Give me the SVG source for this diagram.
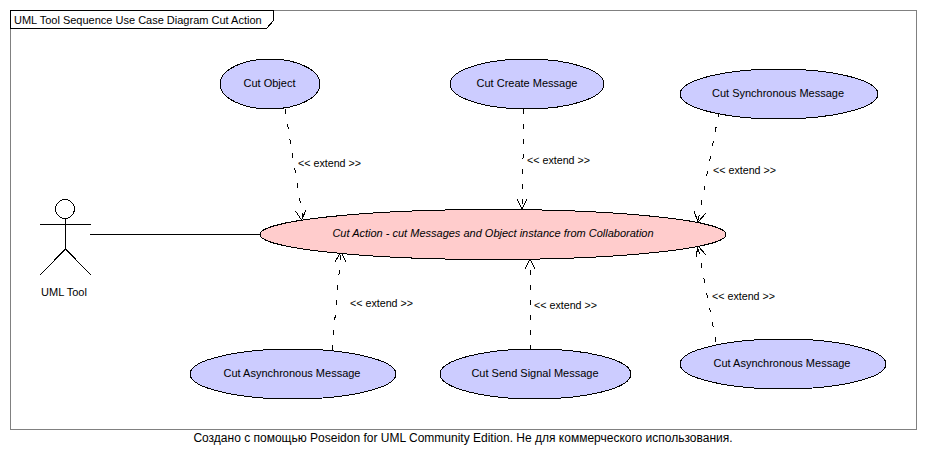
<svg xmlns="http://www.w3.org/2000/svg" width="926" height="461" viewBox="0 0 926 461">
<style>
text{font-family:"Liberation Sans",Arial,sans-serif;font-size:11px;fill:#000;text-anchor:middle}
ellipse,path,circle,rect{shape-rendering:crispEdges}
.uc{fill:#ccf;stroke:#000;stroke-width:1}
.main{fill:#fcc;stroke:#000;stroke-width:1}
.dash{fill:none;stroke:#000;stroke-width:1;stroke-dasharray:5 10}
.head{fill:none;stroke:#000;stroke-width:1}
.l{text-anchor:start}
.x{font-size:10.700px}
</style>
<rect width="926" height="461" fill="#fff"/>
<rect id="frame" x="10.5" y="10.500" width="906" height="419" fill="#fff" stroke="#808080"/>
<g id="frame-label">
<path d="M10.500 10.500H273.500V20.500L266.500 28.500H10.500Z" fill="#fff" stroke="#000"/>
<text class="l" x="14" y="24">UML Tool Sequence Use Case Diagram Cut Action</text>
</g>
<g id="connectors">
<path d="M90 234.500H260" fill="none" stroke="#000"/>
<path class="dash" d="M285 109L303 219"/><path class="head" d="M295.500 211L301.500 220L306 210"/>
<path class="dash" d="M524 109L522 208"/><path class="head" d="M517 199L522 209L527 199"/>
<path class="dash" d="M719 112L698 221"/><path class="head" d="M694 211L698 222L706 213"/>
<path class="dash" d="M332 350L341 253"/><path class="head" d="M335 262L341 252L346 262"/>
<path class="dash" d="M531 350L530 260"/><path class="head" d="M525 269L530 259L535 269"/>
<path class="dash" d="M716 342L698 247"/><path class="head" d="M696 257L698 246L706 255"/>
<text class="l x" x="298" y="167">&lt;&lt; extend &gt;&gt;</text>
<text class="l x" x="527" y="164">&lt;&lt; extend &gt;&gt;</text>
<text class="l x" x="713" y="174">&lt;&lt; extend &gt;&gt;</text>
<text class="l x" x="350" y="307">&lt;&lt; extend &gt;&gt;</text>
<text class="l x" x="534" y="309">&lt;&lt; extend &gt;&gt;</text>
<text class="l x" x="712" y="300">&lt;&lt; extend &gt;&gt;</text>
</g>
<g id="actor">
<circle cx="65" cy="209" r="9.500" fill="#fff" stroke="#000"/>
<path d="M40 224.500H91M65.500 219V249M65.500 249L40 275M65.500 249L91 275" fill="none" stroke="#000"/>
<text x="64" y="296">UML Tool</text>
</g>
<g id="cut-object"><ellipse class="uc" cx="270" cy="84" rx="50" ry="25"/><text x="269.500" y="87">Cut Object</text></g>
<g id="cut-create"><ellipse class="uc" cx="527" cy="84" rx="77" ry="25"/><text x="527" y="87">Cut Create Message</text></g>
<g id="cut-sync"><ellipse class="uc" cx="779" cy="94" rx="99" ry="25"/><text x="778" y="97">Cut Synchronous Message</text></g>
<g id="cut-action"><ellipse class="main" cx="493" cy="234.500" rx="233" ry="25"/><text x="493" y="237" style="font-style:italic">Cut Action - cut Messages and Object instance from Collaboration</text></g>
<g id="cut-async-1"><ellipse class="uc" cx="293" cy="374" rx="103" ry="25"/><text x="292" y="377">Cut Asynchronous Message</text></g>
<g id="cut-signal"><ellipse class="uc" cx="535.500" cy="374" rx="95.500" ry="25"/><text x="535" y="377">Cut Send Signal Message</text></g>
<g id="cut-async-2"><ellipse class="uc" cx="783" cy="364" rx="103" ry="25"/><text x="782" y="367">Cut Asynchronous Message</text></g>
<text id="footer" x="463" y="442" style="font-size:12px">Создано с помощью Poseidon for UML Community Edition. Не для коммерческого использования.</text>
</svg>
